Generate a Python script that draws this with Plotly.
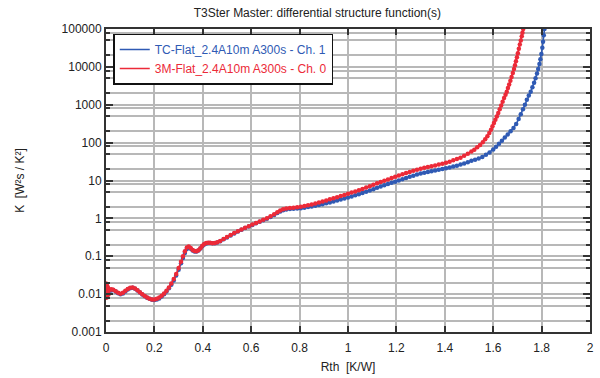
import plotly.graph_objects as go

# Differential structure functions K(Rth) for the two measured channels
rth_tc = [0.000, 0.003, 0.006, 0.010, 0.015, 0.022, 0.030, 0.040, 0.050, 0.060,
          0.070, 0.080, 0.090, 0.100, 0.110, 0.120, 0.130, 0.140, 0.150, 0.160,
          0.170, 0.180, 0.190, 0.200, 0.210, 0.220, 0.230, 0.240, 0.250, 0.260,
          0.270, 0.280, 0.290, 0.300, 0.310, 0.318, 0.326, 0.334, 0.342, 0.350,
          0.358, 0.366, 0.374, 0.382, 0.390, 0.398, 0.406, 0.414, 0.422, 0.430,
          0.440, 0.450, 0.460, 0.472, 0.486, 0.500, 0.515, 0.530, 0.545, 0.560,
          0.575, 0.590, 0.605, 0.620, 0.635, 0.650, 0.665, 0.680, 0.695, 0.708,
          0.720, 0.732, 0.745, 0.760, 0.775, 0.790, 0.805, 0.820, 0.835, 0.850,
          0.865, 0.880, 0.895, 0.910, 0.925, 0.940, 0.955, 0.970, 0.985, 1.000,
          1.015, 1.030, 1.045, 1.060, 1.075, 1.090, 1.105, 1.120, 1.135, 1.150,
          1.165, 1.180, 1.195, 1.210, 1.225, 1.240, 1.255, 1.270, 1.285, 1.300,
          1.315, 1.330, 1.345, 1.360, 1.375, 1.390, 1.405, 1.420, 1.435, 1.450,
          1.465, 1.480, 1.495, 1.510, 1.525, 1.540, 1.555, 1.570, 1.585, 1.600,
          1.612, 1.624, 1.636, 1.648, 1.660, 1.672, 1.684, 1.695, 1.705, 1.714,
          1.723, 1.731, 1.739, 1.747, 1.755, 1.762, 1.769, 1.775, 1.781, 1.786,
          1.791, 1.795, 1.799, 1.803, 1.806, 1.809, 1.812]
k_tc = [0.013, 0.009, 0.015, 0.011, 0.013, 0.0125, 0.0128, 0.0118, 0.0105, 0.0100,
        0.0104, 0.0118, 0.0133, 0.0144, 0.0147, 0.0139, 0.0124, 0.0110, 0.0098, 0.0088,
        0.0080, 0.0075, 0.0071, 0.0070, 0.0072, 0.0077, 0.0086, 0.0099, 0.0117, 0.0142,
        0.0178, 0.0230, 0.0310, 0.0440, 0.0650, 0.0900, 0.122, 0.156, 0.170, 0.158,
        0.142, 0.133, 0.133, 0.142, 0.160, 0.185, 0.205, 0.218, 0.224, 0.223,
        0.219, 0.220, 0.230, 0.250, 0.280, 0.315, 0.355, 0.400, 0.450, 0.500,
        0.555, 0.610, 0.670, 0.740, 0.810, 0.890, 0.980, 1.09, 1.23, 1.38,
        1.52, 1.63, 1.71, 1.76, 1.79, 1.82, 1.86, 1.92, 1.99, 2.07,
        2.16, 2.26, 2.37, 2.50, 2.64, 2.80, 2.97, 3.15, 3.35, 3.55,
        3.80, 4.05, 4.35, 4.70, 5.05, 5.45, 5.90, 6.40, 6.90, 7.50,
        8.10, 8.70, 9.30, 10.0, 10.8, 11.6, 12.5, 13.4, 14.3, 15.2,
        16.0, 16.8, 17.6, 18.4, 19.2, 20.1, 21.0, 22.1, 23.3, 24.7,
        26.3, 28.2, 30.5, 33.0, 35.5, 38.0, 41.5, 48.0, 55.0, 66.0,
        78.0, 93.0, 112.0, 137.0, 165.0, 200.0, 245.0, 310.0, 420.0, 560.0,
        760.0, 1000.0, 1350.0, 1750.0, 2200.0, 2900.0, 3800.0, 5000.0, 6700.0, 8800.0,
        12000.0, 16000.0, 22000.0, 32000.0, 46000.0, 68000.0, 100000.0]

rth_3m = [0.000, 0.002, 0.004, 0.006, 0.008, 0.011, 0.015, 0.022, 0.030, 0.040,
          0.050, 0.060, 0.070, 0.080, 0.090, 0.100, 0.110, 0.120, 0.130, 0.140,
          0.150, 0.160, 0.170, 0.180, 0.190, 0.200, 0.210, 0.220, 0.230, 0.240,
          0.250, 0.260, 0.270, 0.280, 0.290, 0.300, 0.310, 0.318, 0.326, 0.334,
          0.342, 0.350, 0.358, 0.366, 0.374, 0.382, 0.390, 0.398, 0.406, 0.414,
          0.422, 0.430, 0.440, 0.450, 0.460, 0.472, 0.486, 0.500, 0.515, 0.530,
          0.545, 0.560, 0.575, 0.590, 0.605, 0.620, 0.635, 0.650, 0.665, 0.680,
          0.695, 0.708, 0.720, 0.732, 0.745, 0.760, 0.775, 0.790, 0.805, 0.820,
          0.835, 0.850, 0.865, 0.880, 0.895, 0.910, 0.925, 0.940, 0.955, 0.970,
          0.985, 1.000, 1.015, 1.030, 1.045, 1.060, 1.075, 1.090, 1.105, 1.120,
          1.135, 1.150, 1.165, 1.180, 1.195, 1.210, 1.225, 1.240, 1.255, 1.270,
          1.285, 1.300, 1.315, 1.330, 1.345, 1.360, 1.375, 1.390, 1.405, 1.420,
          1.435, 1.450, 1.465, 1.480, 1.495, 1.510, 1.522, 1.534, 1.546, 1.557,
          1.567, 1.576, 1.584, 1.591, 1.597, 1.603, 1.609, 1.615, 1.621, 1.627,
          1.633, 1.639, 1.645, 1.651, 1.656, 1.661, 1.666, 1.671, 1.676, 1.681,
          1.686, 1.690, 1.694, 1.698, 1.702, 1.706, 1.710, 1.714, 1.718, 1.721,
          1.724]
k_3m = [0.019, 0.008, 0.017, 0.009, 0.015, 0.010, 0.013, 0.0135, 0.0130, 0.0120,
        0.0108, 0.0103, 0.0108, 0.0122, 0.0137, 0.0147, 0.0150, 0.0141, 0.0126, 0.0112,
        0.0099, 0.0089, 0.0081, 0.0075, 0.0072, 0.0072, 0.0075, 0.0081, 0.0090, 0.0104,
        0.0123, 0.0150, 0.0190, 0.0250, 0.0340, 0.0490, 0.0720, 0.100, 0.135, 0.170,
        0.180, 0.165, 0.147, 0.137, 0.136, 0.144, 0.162, 0.188, 0.210, 0.223,
        0.228, 0.226, 0.222, 0.223, 0.233, 0.253, 0.285, 0.320, 0.362, 0.408,
        0.458, 0.510, 0.565, 0.620, 0.685, 0.755, 0.830, 0.915, 1.01, 1.13,
        1.29, 1.46, 1.62, 1.74, 1.82, 1.87, 1.92, 1.97, 2.03, 2.11,
        2.21, 2.33, 2.47, 2.62, 2.79, 2.98, 3.18, 3.40, 3.63, 3.88,
        4.15, 4.45, 4.80, 5.15, 5.55, 6.00, 6.50, 7.10, 7.70, 8.40,
        9.10, 9.90, 10.7, 11.6, 12.6, 13.6, 14.6, 15.7, 16.8, 18.0,
        19.2, 20.4, 21.6, 22.7, 23.8, 25.0, 26.3, 27.8, 29.5, 31.5,
        34.0, 37.0, 40.0, 45.0, 51.0, 58.0, 65.0, 75.0, 87.0, 102.0,
        122.0, 148.0, 180.0, 220.0, 270.0, 330.0, 400.0, 490.0, 610.0, 760.0,
        950.0, 1200.0, 1500.0, 1850.0, 2200.0, 2750.0, 3400.0, 4300.0, 5400.0, 6900.0,
        8800.0, 11000.0, 14000.0, 18000.0, 23000.0, 30000.0, 39000.0, 50000.0, 64000.0, 80000.0,
        100000.0]

series_names = ["TC-Flat_2.4A10m A300s - Ch. 1", "3M-Flat_2.4A10m A300s - Ch. 0"]
series_colors = ["#2F5AB4", "#EC2A38"]

x_ticks = [0, 0.2, 0.4, 0.6, 0.8, 1, 1.2, 1.4, 1.6, 1.8, 2]
x_labels = ["0", "0.2", "0.4", "0.6", "0.8", "1", "1.2", "1.4", "1.6", "1.8", "2"]
y_ticks = [1e-3, 1e-2, 1e-1, 1, 10, 100, 1e3, 1e4, 1e5]
y_labels = ["0.001", "0.01", "0.1", "1", "10", "100", "1000", "10000", "100000"]
y_minor = [m * d for d in [1e-3, 1e-2, 1e-1, 1, 10, 100, 1e3, 1e4] for m in (2, 5, 8)]

FONT = "Liberation Sans, Arial, sans-serif"
GRID = "#b8b8b8"
AXIS = "#333333"

fig = go.Figure()

for xs, ks, color in [(rth_tc, k_tc, series_colors[0]), (rth_3m, k_3m, series_colors[1])]:
    fig.add_trace(go.Scatter(
        x=xs, y=ks, mode="lines+markers",
        line=dict(color=color, width=1.6),
        marker=dict(color=color, size=4.5, symbol="circle"),
        showlegend=False, hoverinfo="skip",
    ))

# legend entries show the line style only
for name, color in zip(series_names, series_colors):
    fig.add_trace(go.Scatter(
        x=[None], y=[None], mode="lines",
        line=dict(color=color, width=1.6),
        name=f"<span style='color:{color}'>{name}</span>",
    ))

fig.update_layout(
    width=600, height=378,
    margin=dict(l=106, r=6, t=29, b=46),
    paper_bgcolor="white", plot_bgcolor="white",
    font=dict(family=FONT, size=12, color="#222222"),
    title=dict(
        text="T3Ster Master: differential structure function(s)",
        x=0.529, xref="container", xanchor="center",
        y=0.965, yref="container", yanchor="middle",
        font=dict(size=12, color="#222222"),
    ),
    legend=dict(
        x=0.015, y=0.985, xanchor="left", yanchor="top",
        bgcolor="white", bordercolor="#111111", borderwidth=1.5,
        font=dict(size=12), tracegroupgap=0,
        itemwidth=30,
    ),
)

fig.update_xaxes(
    range=[0, 2],
    tickvals=x_ticks, ticktext=x_labels,
    ticks="inside", ticklen=6, tickwidth=1.5, tickcolor=AXIS,
    showline=True, linewidth=2, linecolor=AXIS, mirror="allticks",
    showgrid=True, gridcolor=GRID, gridwidth=1.5,
    zeroline=False,
    tickfont=dict(size=12),
    ticklabelstandoff=4,
    title=dict(text="Rth  [K/W]", font=dict(size=12), standoff=8),
)

fig.update_yaxes(
    type="log", range=[-3, 5],
    tickvals=y_ticks, ticktext=y_labels,
    ticks="inside", ticklen=7, tickwidth=1.5, tickcolor=AXIS,
    showline=True, linewidth=2, linecolor=AXIS, mirror="allticks",
    showgrid=True, gridcolor=GRID, gridwidth=1.5,
    minor=dict(tickvals=y_minor, ticks="inside", ticklen=4, tickcolor=AXIS,
               showgrid=True, gridcolor=GRID, gridwidth=1.5),
    zeroline=False,
    tickfont=dict(size=12),
    title=dict(text="K  [W²s / K²]", font=dict(size=12), standoff=34),
)

fig.write_html("out.html")
